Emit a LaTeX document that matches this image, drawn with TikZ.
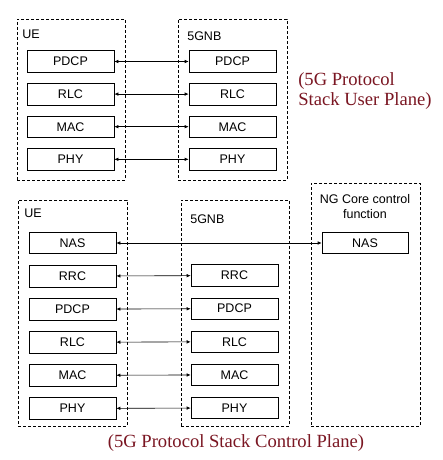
\documentclass[tikz,border=0pt]{standalone}
\usepackage{fontspec}
\setmainfont{Liberation Sans}
\newfontfamily\titlefont{Liberation Serif}
\usetikzlibrary{positioning,arrows.meta}
\definecolor{granate}{RGB}{122,22,34}

\begin{document}
\begin{tikzpicture}[x=1pt,y=-1pt,font=\fontsize{12.5}{15}\selectfont,line width=0.6pt,
  layer/.style={draw,minimum width=87pt,minimum height=21.5pt,inner sep=0pt},
  frame/.style={draw,dash pattern=on 3pt off 2pt,inner sep=0pt},
  tag/.style={inner sep=0pt,anchor=west},
  link/.style={{Latex[length=4pt,width=3.5pt]}-{Latex[length=4pt,width=3.5pt]}},
  caption/.style={text=granate,font=\titlefont\fontsize{18.6}{20}\selectfont,inner sep=0pt}]
  \useasboundingbox (0,0) rectangle (442,460);
  % plano de usuario
  \node[frame,minimum width=108pt,minimum height=161pt] (ueU) at (71,99.5) {};
  \node[frame,minimum width=109pt,minimum height=161pt] (gnbU) at (232.5,99.5) {};
  \node[tag] (ueUtag) at (22,34) {UE};
  \node[tag] (gnbUtag) at (187,36) {5GNB};
  \node[layer] (uPdcp) at (70.5,61.5) {PDCP};
  \node[layer,below=10.5pt of uPdcp] (uRlc) {RLC};
  \node[layer,below=10.5pt of uRlc] (uMac) {MAC};
  \node[layer,below=10.5pt of uMac] (uPhy) {PHY};
  \node[layer] (gPdcp) at (232.5,61.5) {PDCP};
  \node[layer,below=10.5pt of gPdcp] (gRlc) {RLC};
  \node[layer,below=10.5pt of gRlc] (gMac) {MAC};
  \node[layer,below=10.5pt of gMac] (gPhy) {PHY};
  \draw[link] (uPdcp) -- (gPdcp);
  \draw[link] (uRlc) -- (gRlc);
  \draw[link] (uMac) -- (gMac);
  \draw[link] (uPhy) -- (gPhy);
  \node[caption,anchor=west,align=left] (capU) at (298,91.5) {(5G Protocol\\Stack User Plane)};
  % plano de control
  \node[frame,minimum width=109pt,minimum height=226pt] (ueC) at (72.5,313) {};
  \node[frame,minimum width=108pt,minimum height=226pt] (gnbC) at (235,313) {};
  \node[frame,minimum width=109pt,minimum height=243pt] (core) at (365.5,304.5) {};
  \node[tag] (ueCtag) at (24,213) {UE};
  \node[tag] (gnbCtag) at (190,219) {5GNB};
  \node[align=center,inner sep=0pt] (coretag) at (365,206.5) {NG Core control\\function};
  \node[layer] (cNas) at (72.5,243) {NAS};
  \node[layer,below=11pt of cNas] (cRrc) {RRC};
  \node[layer,below=11pt of cRrc] (cPdcp) {PDCP};
  \node[layer,below=11pt of cPdcp] (cRlc) {RLC};
  \node[layer,below=11pt of cRlc] (cMac) {MAC};
  \node[layer,below=11pt of cMac] (cPhy) {PHY};
  \node[layer] (nRrc) at (234.5,275.5) {RRC};
  \node[layer,below=11pt of nRrc] (nPdcp) {PDCP};
  \node[layer,below=11pt of nPdcp] (nRlc) {RLC};
  \node[layer,below=11pt of nRlc] (nMac) {MAC};
  \node[layer,below=11pt of nMac] (nPhy) {PHY};
  \node[layer,minimum width=86pt] (coreNas) at (365,243) {NAS};
  \draw[link] (cNas) -- (coreNas);
  \draw[link] (cRrc) -- (nRrc);
  \draw[link] (cPdcp) -- (nPdcp);
  \draw[link] (cRlc) -- (nRlc);
  \draw[link] (cMac) -- (nMac);
  \draw[link] (cPhy) -- (nPhy);
  \node[caption] (capC) at (236,443) {(5G Protocol Stack Control Plane)};
\end{tikzpicture}
\end{document}
